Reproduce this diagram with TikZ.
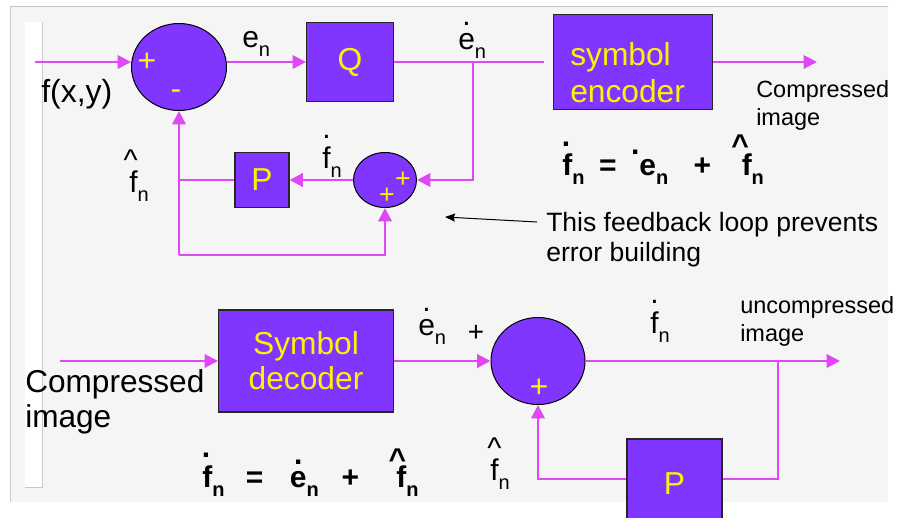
\documentclass[tikz,border=0pt]{standalone}
\usepackage{fontspec}
\setmainfont{Liberation Sans}
\usepackage{tikz}
\usetikzlibrary{positioning}
\usetikzlibrary{arrows.meta}
\usetikzlibrary{shapes.geometric}
\usetikzlibrary{calc}
\usetikzlibrary{math}

\definecolor{blockpurple}{RGB}{128,54,255}
\definecolor{flowpink}{RGB}{222,72,245}
\definecolor{slidegray}{RGB}{245,245,245}
\definecolor{edgegray}{RGB}{200,200,200}

% a mark (dot or hat) stacked over a letter, raised by #3,
% pulled left by half of the optional #1
\newcommand{\overmark}[4][0pt]{\ooalign{#4\cr\hidewidth\raisebox{#3}{#2}\kern#1\hidewidth\cr}}
% lowered, smaller subscript
\newcommand{\lowsub}[1]{\raisebox{-0.3em}{\fontsize{15}{16}\selectfont #1}}

\begin{document}
\begin{tikzpicture}[x=0.75pt,y=-0.75pt,
  block/.style={draw=black!85, line width=0.8pt, fill=blockpurple, text=yellow,
    inner sep=0pt, font=\fontsize{23.8}{27.75}\selectfont},
  blocktext/.style={text=yellow, inner sep=0pt, font=\fontsize{23.8}{27.75}\selectfont},
  adder/.style={ellipse, draw=black, line width=0.75pt, fill=blockpurple, inner sep=0pt},
  sign/.style={text=yellow, inner sep=0pt, font=\fontsize{24}{24}\selectfont},
  flow/.style={draw=flowpink, line width=1.8pt},
  feed/.style={flow, -{Triangle[length=10pt,width=10pt]}},
  pointer/.style={draw=black, line width=0.75pt, -{Stealth[length=7.5pt,width=6pt,inset=1pt]}},
  lab/.style={inner sep=0pt, font=\fontsize{22.5}{24}\selectfont},
  smalltext/.style={inner sep=0pt, align=left, font=\fontsize{17.6}{21.5}\selectfont},
  remark/.style={inner sep=0pt, align=left, font=\fontsize{19.9}{22.5}\selectfont},
  eqn/.style={inner sep=0pt, font=\fontsize{22.5}{24}\selectfont\bfseries},
]

  \tikzmath{
    \toprow  = 62;  % signal line of the encoder
    \looprow = 255; % return path under the encoder loop
    \botrow  = 361; % signal line of the decoder
    \predrow = 479; % return path through the decoder predictor
  }

  % slide background and frame
  \useasboundingbox (0,0) rectangle (902,517);
  \clip (0,0) rectangle (902,517);
  \fill[slidegray] (10,7) rectangle (888,502);
  \draw[edgegray, line width=0.75pt] (888,7) -- (10,7) -- (10,502);
  \fill[white] (25,22) rectangle (42,487);
  \draw[edgegray, line width=0.75pt] (42,22) -- (42,487) -- (25,487);

  % encoder blocks
  \node[adder, minimum width=71.25pt, minimum height=65.25pt] (sum1) at (179,67) {};
  \node[block, minimum width=65.25pt, minimum height=59.25pt] (Q) at (350,\toprow) {Q};
  \node[block, minimum width=119.25pt, minimum height=71.25pt] (enc) at (633,\toprow) {};
  \node[blocktext, align=left, anchor=north west] (enclabel) at (570,42) {symbol\\encoder};
  \node[adder, minimum width=47.25pt, minimum height=41.25pt] (sum2) at (385,180) {};
  \node[block, minimum width=40.5pt, minimum height=41.25pt] (P1) at (262,180) {P};

  % signs on the encoder adders
  \node[sign] (s1a) at (147,62) {+};
  \node[sign] (s1b) at (176,95) {-};
  \node[sign, font=\fontsize{20}{20}\selectfont] (s2a) at (403,180) {+};
  \node[sign, font=\fontsize{20}{20}\selectfont] (s2b) at (387,196) {+};

  % encoder signal path
  \coordinate (fin) at (35,\toprow);
  \coordinate (br1) at (473,\toprow);
  \coordinate (fb1) at (179,\looprow);
  \coordinate (out1) at (817,\toprow);
  \draw[feed] (fin) -- (fin -| sum1.west);
  \draw[feed] (sum1.east |- fin) -- (fin -| Q.west);
  \draw[flow, shorten >=6.75pt] (Q.east) -- (enc.west);
  \draw[feed] (br1) |- (sum2.east);
  \draw[feed] (sum2.west) -- (P1.east);
  \draw[flow] (P1.west) -- (P1.west -| fb1);
  \draw[feed] (fb1) -- (sum1.south);
  \draw[feed] (fb1) -| (sum2.south);
  \draw[feed] (enc.east) -- (out1);

  % encoder labels
  \node[lab, anchor=base west, font=\fontsize{24}{26}\selectfont] (lfxy) at (41,103) {f(x,y)};
  \node[lab, anchor=base west] (len) at (242,48) {e\lowsub{n}};
  \node[lab, anchor=base west] (lendot) at (458,50) {\overmark{.}{0.8em}{e}\lowsub{n}};
  \node[lab, anchor=base west] (lfdot) at (322,168) {\overmark{.}{1.0em}{f}\lowsub{n}};
  \node[lab, anchor=base west] (lfhat) at (129,192) {\overmark[4pt]{\textasciicircum}{0.72em}{f}\lowsub{n}};
  \node[smalltext, anchor=north west] (lout1) at (756,80) {Compressed\\image};
  \node[eqn, anchor=base west] (eqenc) at (562,175)
    {\overmark[2pt]{.}{0.95em}{f}\lowsub{n}\hspace{11pt}=\hspace{17pt}\llap{\raisebox{0.7em}{.}}e\lowsub{n}\hspace{19pt}+\hspace{23pt}\overmark[10pt]{\textasciicircum}{0.66em}{f}\lowsub{n}};
  \node[remark, anchor=north west] (loopnote) at (546,212) {This feedback loop prevents\\error building};
  \coordinate (notetip) at (445,217);
  \draw[pointer] ($(loopnote.north west)+(-9,10)$) -- (notetip);

  % decoder blocks
  \node[block, minimum width=131.25pt, minimum height=76.5pt, align=center,
    font=\fontsize{23.8}{26.25}\selectfont] (dec) at (306,\botrow) {Symbol\\decoder};
  \node[adder, minimum width=70.5pt, minimum height=65.25pt] (sum3) at (538,\botrow) {};
  \node[block, minimum width=71.25pt, minimum height=67.5pt] (P2) at (674.5,484) {P};
  \node[sign] (s3) at (539,388) {+};
  \node[lab, font=\fontsize{21}{21}\selectfont] (s3in) at (476,333) {+};

  % decoder signal path
  \coordinate (fin2) at (60,\botrow);
  \coordinate (br2) at (778,\botrow);
  \coordinate (fb2) at (778,\predrow);
  \coordinate (out2) at (840,\botrow);
  \draw[feed] (fin2) -- (dec.west);
  \draw[feed] (dec.east) -- (sum3.west);
  \draw[feed] (sum3.east) -- (out2);
  \draw[flow] (br2) -- (fb2) -- (fb2 -| P2.east);
  \draw[feed] (fb2 -| P2.west) -| (sum3.south);

  % decoder labels
  \node[lab, anchor=north west, align=left, font=\fontsize{23.7}{26.25}\selectfont] (lin2) at (25,369) {Compressed\\image};
  \node[lab, anchor=base west] (lendot2) at (418,335) {\overmark{.}{0.8em}{e}\lowsub{n}};
  \node[lab, anchor=base west] (lfdot2) at (650,333) {\overmark{.}{1.0em}{f}\lowsub{n}};
  \node[lab, anchor=base west] (lfhat2) at (490,480) {\overmark{\textasciicircum}{0.72em}{f}\lowsub{n}};
  \node[smalltext, anchor=north west] (lout2) at (740,296) {uncompressed\\image};
  \node[eqn, anchor=base west] (eqdec) at (202,487)
    {\overmark[2pt]{.}{1.0em}{f}\lowsub{n}\hspace{16pt}=\hspace{20pt}\overmark{.}{0.74em}{e}\lowsub{n}\hspace{17pt}+\hspace{28pt}\overmark[6pt]{\textasciicircum}{0.57em}{f}\lowsub{n}};

\end{tikzpicture}
\end{document}
